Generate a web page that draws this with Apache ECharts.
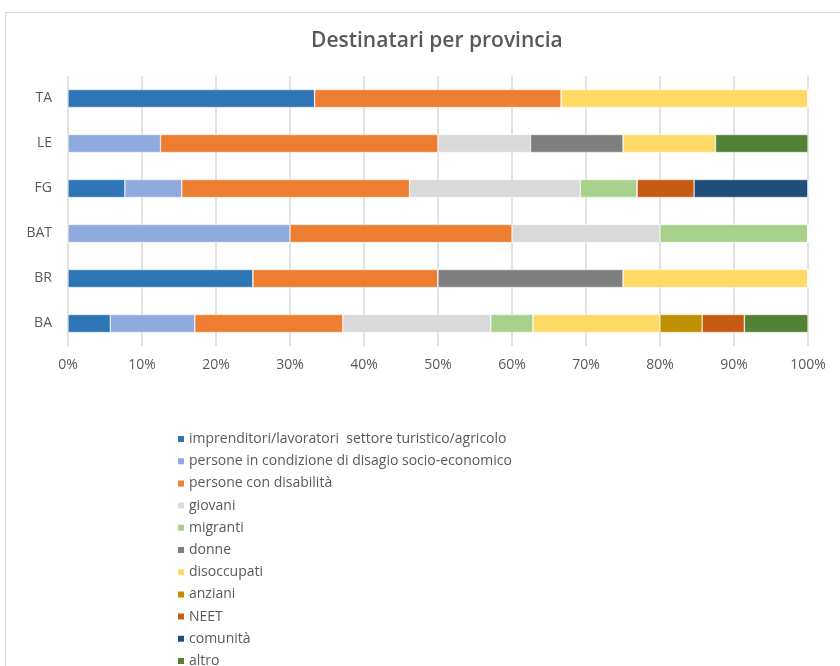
<!DOCTYPE html>
<html>
<head>
<meta charset="utf-8">
<script src="https://cdn.jsdelivr.net/npm/echarts@6/dist/echarts.min.js"></script>
<style>
  html, body { margin: 0; padding: 0; background: #fff; }
  #chart { width: 840px; height: 666px; }
</style>
</head>
<body>
<div id="chart"></div>
<script>
// Provinces, bottom to top
const provinces = ['BA', 'BR', 'BAT', 'FG', 'LE', 'TA'];

// Share of recipients (%) per category, one value per province (BA, BR, BAT, FG, LE, TA)
const imprenditori = [5.71, 25, 0, 7.69, 0, 33.33];
const disagio      = [11.43, 0, 30, 7.69, 12.5, 0];
const disabilita   = [20, 25, 30, 30.77, 37.5, 33.33];
const giovani      = [20, 0, 20, 23.08, 12.5, 0];
const migranti     = [5.71, 0, 20, 7.69, 0, 0];
const donne        = [0, 25, 0, 0, 12.5, 0];
const disoccupati  = [17.14, 25, 0, 0, 12.5, 33.34];
const anziani      = [5.71, 0, 0, 0, 0, 0];
const neet         = [5.71, 0, 0, 7.69, 0, 0];
const comunita     = [0, 0, 0, 15.39, 0, 0];
const altro        = [8.59, 0, 0, 0, 12.5, 0];

const xTicks = [0, 10, 20, 30, 40, 50, 60, 70, 80, 90, 100];

const seriesDefs = [
  ['imprenditori/lavoratori  settore turistico/agricolo', imprenditori, '#2E75B6'],
  ['persone in condizione di disagio socio-economico', disagio, '#8FAADC'],
  ['persone con disabilità', disabilita, '#ED7D31'],
  ['giovani', giovani, '#D9D9D9'],
  ['migranti', migranti, '#A9D18E'],
  ['donne', donne, '#7F7F7F'],
  ['disoccupati', disoccupati, '#FFD966'],
  ['anziani', anziani, '#BF9000'],
  ['NEET', neet, '#C55A11'],
  ['comunità', comunita, '#1F4E79'],
  ['altro', altro, '#548235']
];

const FONT = 'Open Sans';
const chart = echarts.init(document.getElementById('chart'), null, { renderer: 'canvas' });

chart.setOption({
  animation: false,
  backgroundColor: '#fff',
  textStyle: { fontFamily: FONT },
  graphic: [{
    type: 'rect', z: -10,
    shape: { x: 5.5, y: 12.5, width: 860, height: 700 },
    style: { fill: '#fff', stroke: '#d9d9d9', lineWidth: 1 }
  }],
  title: {
    text: 'Destinatari per provincia',
    left: 306, top: 26,
    textStyle: { fontFamily: FONT, fontSize: 21, fontWeight: 600, color: '#595959' }
  },
  grid: { left: 68, right: 32, top: 76, height: 270, containLabel: false },
  xAxis: {
    type: 'value', min: 0, max: 100, interval: 10,
    axisLine: { show: false }, axisTick: { show: false },
    splitLine: { show: true, lineStyle: { color: '#d9d9d9', width: 1.5 } },
    axisLabel: {
      color: '#595959', fontSize: 14, margin: 12,
      formatter: v => xTicks.includes(v) ? v + '%' : ''
    }
  },
  yAxis: {
    type: 'category', data: provinces,
    axisLine: { show: false }, axisTick: { show: false },
    axisLabel: { color: '#595959', fontSize: 14, margin: 16 }
  },
  legend: {
    orient: 'vertical', left: 171, top: 427, height: 320,
    itemWidth: 8, itemHeight: 8, itemGap: 8.2,
    icon: 'rect',
    textStyle: { color: '#595959', fontSize: 14, lineHeight: 14, padding: [0, 0, 0, -1] },
    data: seriesDefs.map(d => d[0])
  },
  series: seriesDefs.map(([name, values, color]) => ({
    name, type: 'bar', stack: 'total',
    data: values,
    barWidth: 18,
    itemStyle: { color, borderColor: '#fff', borderWidth: 0.5 }
  }))
});
</script>
</body>
</html>
